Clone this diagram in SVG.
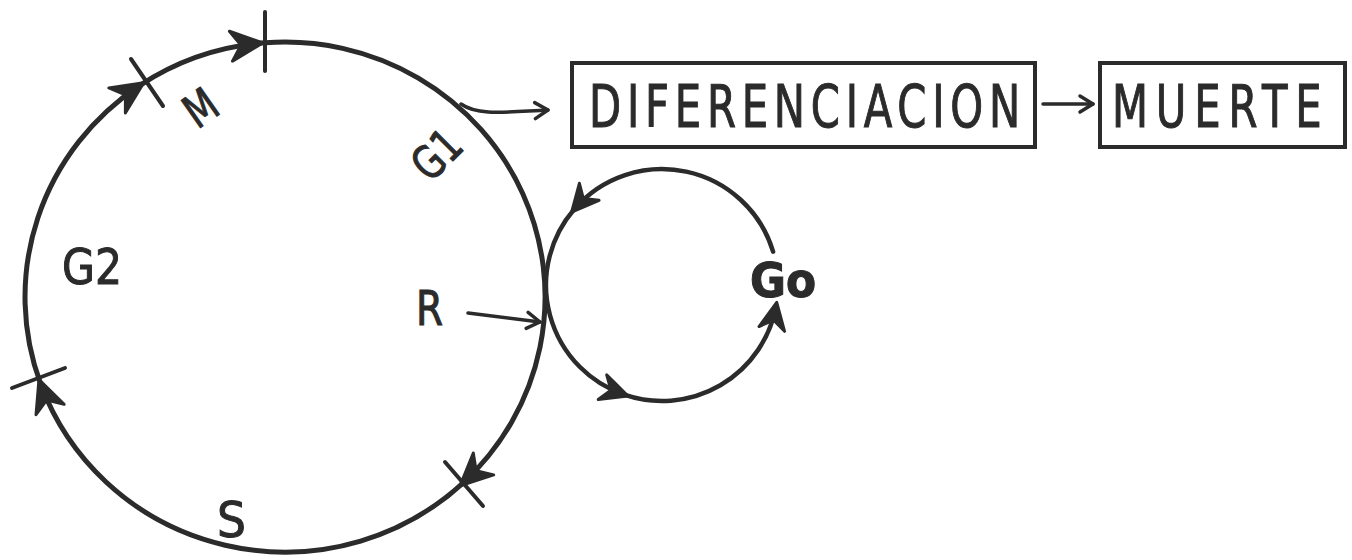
<svg xmlns="http://www.w3.org/2000/svg" width="1352" height="560" viewBox="0 0 1352 560">
<style>
.ln{fill:none;stroke:#2b2b2b;stroke-width:5;stroke-linecap:round}
.thin{fill:none;stroke:#2b2b2b;stroke-width:3.5;stroke-linecap:round}
.tick{stroke:#2b2b2b;stroke-width:4;stroke-linecap:round}
.box{fill:none;stroke:#2b2b2b;stroke-width:4}
.lbl{font-family:"DejaVu Sans Condensed","DejaVu Sans",sans-serif;fill:#2b2b2b;stroke:#2b2b2b;stroke-width:1}
</style>
<defs>
<marker id="big" markerUnits="userSpaceOnUse" orient="auto" refX="0" refY="0" markerWidth="50" markerHeight="50" viewBox="-40 -25 50 50" overflow="visible">
<path d="M5,0 L-27,-15 L-17,0 L-27,15 Z" fill="#2b2b2b" stroke="#2b2b2b" stroke-width="3" stroke-linejoin="round"/>
</marker>
<marker id="mid" markerUnits="userSpaceOnUse" orient="auto" refX="0" refY="0" markerWidth="50" markerHeight="50" viewBox="-40 -25 50 50" overflow="visible">
<path d="M4,0 L-23,-13 L-14,0 L-23,13 Z" fill="#2b2b2b" stroke="#2b2b2b" stroke-width="3" stroke-linejoin="round"/>
</marker>
<marker id="open" markerUnits="userSpaceOnUse" orient="auto" refX="0" refY="0" markerWidth="30" markerHeight="30" viewBox="-20 -15 30 30" overflow="visible">
<path d="M-13,-8 L0,0 L-13,8" fill="none" stroke="#2b2b2b" stroke-width="3.5" stroke-linecap="round" stroke-linejoin="round"/>
</marker>
</defs>
<rect width="1352" height="560" fill="#ffffff"/>

<g id="cycle">
<path class="ln" d="M265.1,42.75 A260,255 0 0 1 463.7,482.3" marker-end="url(#big)"/>
<path class="ln" d="M463.7,482.3 A260,255 0 0 1 40.7,384.2" marker-end="url(#big)"/>
<path class="ln" d="M40.7,384.2 A260,255 0 0 1 139.6,85.6" marker-end="url(#big)"/>
<path class="ln" d="M139.6,85.6 A260,255 0 0 1 257.8,43.4" marker-end="url(#big)"/>
<path class="ln" d="M257.8,43.4 A260,255 0 0 1 265.1,42.75"/>
<line class="tick" x1="265" y1="12" x2="265" y2="71"/>
<line class="tick" x1="131" y1="59" x2="163" y2="106"/>
<line class="tick" x1="12" y1="388" x2="65" y2="368"/>
<line class="tick" x1="445" y1="462" x2="483" y2="506"/>
<text class="lbl" font-size="46" text-anchor="middle" transform="translate(210,121) rotate(-35) scale(0.85,1)">M</text>
<text class="lbl" font-size="46" text-anchor="middle" transform="translate(448,166) rotate(-45) scale(0.85,1)">G1</text>
<text class="lbl" font-size="50" x="62" y="284" textLength="60" lengthAdjust="spacingAndGlyphs">G2</text>
<text class="lbl" font-size="50" x="217" y="537" textLength="29" lengthAdjust="spacingAndGlyphs">S</text>
<text class="lbl" font-size="48" x="416" y="325" textLength="27" lengthAdjust="spacingAndGlyphs">R</text>
</g>

<g id="g0-loop">
<path class="ln" style="stroke-width:4.5" d="M773.1,251.7 A116,116 0 0 0 574.2,209.2" marker-end="url(#mid)"/>
<path class="ln" style="stroke-width:4.5" d="M574.2,209.2 A116,116 0 0 0 624.2,394.7" marker-end="url(#mid)"/>
<path class="ln" style="stroke-width:4.5" d="M624.2,394.7 A116,116 0 0 0 776,306.3" marker-end="url(#mid)"/>
<text class="lbl" font-size="48" font-weight="bold" x="750" y="297" textLength="66" lengthAdjust="spacingAndGlyphs">Go</text>
</g>

<g id="diferenciacion">
<rect class="box" x="572" y="63" width="463" height="84"/>
<text class="lbl" font-size="58" transform="translate(589,127) scale(0.8,1)" x="0" y="0" textLength="539" lengthAdjust="spacing">DIFERENCIACION</text>
</g>

<g id="muerte">
<rect class="box" x="1100" y="63" width="245" height="84"/>
<text class="lbl" font-size="58" transform="translate(1112,127) scale(0.8,1)" x="0" y="0" textLength="262" lengthAdjust="spacing">MUERTE</text>
</g>

<g id="connectors">
<path class="thin" d="M461,104 C478,116 505,112 548,110" marker-end="url(#open)"/>
<path class="thin" d="M468,313 L540,322" marker-end="url(#open)"/>
<path class="thin" d="M1043,104 L1093,104" marker-end="url(#open)"/>
</g>
</svg>
